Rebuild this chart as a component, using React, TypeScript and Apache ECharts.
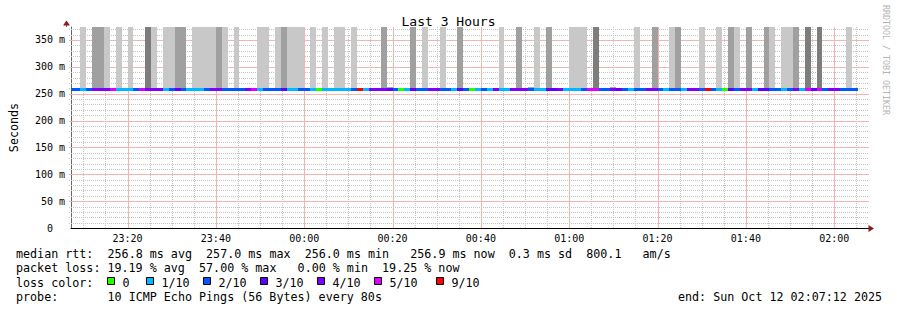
import React, { useEffect, useRef } from 'react';
import * as echarts from 'echarts';

// ---------------- data ----------------
const chartTitle = 'Last 3 Hours';
const yAxisName = 'Seconds';
const watermark = 'RRDTOOL / TOBI OETIKER';

const xStartMin = 7.2; // 23:07:12, minutes after 23:00
const xEndMin = 187.2; // 02:07:12
const firstSlotMin = 6 + 40 / 60; // 23:06:40, first 80 s step
const stepMin = 80 / 60;
const yMax = 374; // ms

const timeTickMinutes = [20, 40, 60, 80, 100, 120, 140, 160, 180];
const timeMinorMinutes = [10, 15, 25, 30, 35, 45, 50, 55, 65, 70, 75, 85, 90, 95, 105, 110, 115, 125, 130, 135, 145, 150, 155, 165, 170, 175, 185];
const rttMajorTicks = [50, 100, 150, 200, 250, 300, 350];
const rttMinorTicks = [10, 20, 30, 40, 60, 70, 80, 90, 110, 120, 130, 140, 160, 170, 180, 190, 210, 220, 230, 240, 260, 270, 280, 290, 310, 320, 330, 340, 360, 370];

// loss per 80 s step (number of lost pings out of 10)
const lossCode = [
  2, 2, 1, 2, 4, 4, 4, 5, 1, 1,
  1, 2, 5, 4, 4, 4, 1, 2, 3, 2,
  1, 1, 1, 2, 4, 4, 2, 2, 2, 2,
  4, 5, 1, 2, 2, 2, 3, 1, 1, 2,
  2, 1, 0, 1, 1, 1, 1, 1, 2, 9,
  1, 4, 4, 4, 3, 2, 0, 1, 3, 2,
  2, 4, 4, 2, 2, 1, 3, 2, 0, 1,
  2, 1, 4, 1, 1, 4, 4, 4, 2, 1,
  1, 3, 3, 4, 1, 1, 1, 2, 5, 5,
  2, 2, 4, 3, 2, 1, 2, 2, 4, 4,
  2, 1, 2, 2, 1, 4, 4, 2, 9, 2,
  1, 0, 3, 2, 4, 4, 1, 3, 3, 2,
  2, 1, 2, 4, 1, 5, 3, 5, 2, 4,
  4, 2, 2, 2,
];

// median rtt per step, ms
const medianRtt = [
  256.9, 257.0, 256.8, 256.9, 257.1, 257.0, 256.8, 256.9, 257.0, 256.9,
  256.8, 257.0, 256.9, 257.1, 256.9, 256.8, 257.0, 256.9, 256.8, 257.0,
  256.9, 256.9, 257.0, 256.8, 256.9, 257.0, 256.9, 256.8, 256.9, 257.0,
  256.8, 256.9, 257.0, 256.9, 256.8, 256.9, 257.0, 256.9, 256.8, 256.9,
  257.0, 256.9, 256.8, 256.9, 257.0, 256.8, 256.9, 257.0, 256.9, 256.8,
  256.9, 257.0, 256.8, 256.9, 257.0, 256.9, 256.8, 256.9, 257.0, 256.9,
  256.8, 257.0, 256.9, 256.8, 256.9, 257.0, 256.9, 256.8, 256.9, 257.0,
  256.9, 256.8, 257.0, 256.9, 256.8, 256.9, 257.0, 256.9, 256.8, 256.9,
  257.0, 256.9, 256.8, 256.9, 257.0, 256.9, 256.8, 256.9, 257.0, 256.9,
  256.8, 256.9, 257.0, 256.9, 256.8, 256.9, 257.0, 256.9, 256.8, 256.9,
  257.0, 256.9, 256.8, 256.9, 257.0, 256.9, 256.8, 256.9, 257.0, 256.9,
  256.8, 256.9, 257.0, 256.9, 256.8, 256.9, 257.0, 256.9, 256.8, 256.9,
  257.0, 256.9, 256.8, 256.9, 257.0, 256.9, 256.8, 256.9, 257.0, 256.9,
  256.9, 256.8, 256.9, 256.9,
];

// smoke reaching above the graph: step indices by shade
const smokeLightSteps = [2, 6, 8, 10, 14, 16, 17, 21, 22, 23, 24, 26, 28, 32, 33, 35, 37, 38, 39, 41, 43, 45, 46, 48, 60, 63, 73, 79, 85, 86, 87, 96, 102, 107, 110, 113, 119, 121, 122, 132];
const smokeMediumSteps = [4, 5, 18, 19, 25, 36, 53, 58, 66, 76, 81, 99, 103, 112, 115, 118, 123];
const smokeDarkSteps = [13, 89, 125, 127];

// small smoke just above the median
const smokeBumpSteps = [27, 30, 42, 52, 54, 68, 69, 71, 78, 92, 93, 101, 117, 126];
const smokeBumpTop = [260, 260, 260.5, 260, 262, 260.5, 260.5, 260, 261.5, 261.5, 260.5, 260.5, 261, 260];

const lossColors: Record<number, string> = {
  0: '#26ff00', 1: '#00b8ff', 2: '#0059ff', 3: '#5e00ff', 4: '#7e00ff', 5: '#dd00ff', 9: '#ff0000',
};
const lossLegendCodes = [0, 1, 2, 3, 4, 5, 9];
const lossLegendLabels = ['0', '1/10', '2/10', '3/10', '4/10', '5/10', '9/10'];

const statsLine = 'median rtt:  256.8 ms avg  257.0 ms max  256.0 ms min   256.9 ms now  0.3 ms sd  800.1   am/s';
const lossLine = 'packet loss: 19.19 % avg  57.00 % max   0.00 % min  19.25 % now';
const lossColorLabel = 'loss color:';
const probeLine = 'probe:       10 ICMP Echo Pings (56 Bytes) every 80s';
const endLine = 'end: Sun Oct 12 02:07:12 2025';

// ---------------- styling ----------------
const MONO = '"DejaVu Sans Mono", monospace';
const LEG_FONT = `11.7px ${MONO}`;
const CW = 7.04;
const shadeColors = ['#c8c8c8', '#a0a0a0', '#7d7d7d'];
const MINOR_GRID = '#c4c4c4';
const MAJOR_GRID = '#f5b4b4';

function fmtTime(m: number) {
  const total = Math.round(23 * 60 + m) % 1440;
  const h = Math.floor(total / 60);
  const mm = total % 60;
  return `${String(h).padStart(2, '0')}:${String(mm).padStart(2, '0')}`;
}

function segments(line: string) {
  const out: { text: string; col: number }[] = [];
  const re = /\S+(?: \S+)*/g;
  let m: RegExpExecArray | null;
  while ((m = re.exec(line))) out.push({ text: m[0], col: m.index });
  return out;
}

function clipRect(params: any, r: any) {
  return echarts.graphic.clipRectByRect(r, {
    x: params.coordSys.x,
    y: params.coordSys.y,
    width: params.coordSys.width,
    height: params.coordSys.height,
  });
}

function gridLineRenderer(color: string, dash: number[] | null) {
  return (params: any, api: any) => {
    const vertical = api.value(0) === 0;
    const v = api.value(1);
    let shape: any;
    if (vertical) {
      const a = api.coord([v, 0]);
      const b = api.coord([v, yMax]);
      const x = Math.round(a[0]) + 0.5;
      shape = { x1: x, y1: Math.round(a[1]), x2: x, y2: Math.round(b[1]) };
    } else {
      const a = api.coord([xStartMin, v]);
      const b = api.coord([xEndMin, v]);
      const y = Math.round(a[1]) + 0.5;
      shape = { x1: Math.round(a[0]) - 2, y1: y, x2: Math.round(b[0]) + 3, y2: y };
    }
    const style: any = { stroke: color, lineWidth: 1, fill: null };
    if (dash) style.lineDash = dash;
    return { type: 'line', shape, style };
  };
}

export default function App() {
  const ref = useRef<HTMLDivElement>(null);

  useEffect(() => {
    if (!ref.current) return;
    const chart = echarts.init(ref.current, undefined, { renderer: 'svg' });

    const slotStart = (j: number) => firstSlotMin + j * stepMin;

    const barData: number[][] = [];
    [smokeLightSteps, smokeMediumSteps, smokeDarkSteps].forEach((list, shade) => {
      list.forEach((j) => barData.push([slotStart(j), slotStart(j + 1), medianRtt[j], yMax, shade]));
    });
    const bumpData = smokeBumpSteps.map((j, i) => [slotStart(j), slotStart(j + 1), medianRtt[j], smokeBumpTop[i]]);
    const medianData = medianRtt.map((v, j) => [slotStart(j), slotStart(j + 1), v, lossCode[j]]);

    const minorGrid: number[][] = [];
    timeMinorMinutes.forEach((m) => minorGrid.push([0, m]));
    rttMinorTicks.forEach((v) => minorGrid.push([1, v]));
    const majorGrid: number[][] = [];
    timeTickMinutes.forEach((m) => majorGrid.push([0, m]));
    rttMajorTicks.forEach((v) => majorGrid.push([1, v]));

    const rectItem = (params: any, api: any, lo: number, hi: number, fill: string) => {
      const s = api.value(0);
      const e = api.value(1);
      const p0 = api.coord([s, hi]);
      const p1 = api.coord([e, lo]);
      const x0 = Math.round(p0[0]);
      const x1 = Math.round(p1[0]);
      const y0 = Math.round(p0[1]);
      const y1 = Math.round(p1[1]);
      const r = clipRect(params, { x: x0, y: y0, width: x1 - x0, height: y1 - y0 });
      if (!r) return null;
      return { type: 'rect', shape: r, style: { fill } };
    };

    const graphics: any[] = [];
    // axis extensions + arrows
    graphics.push({ type: 'line', shape: { x1: 866, y1: 228.5, x2: 870, y2: 228.5 }, style: { stroke: '#000', lineWidth: 1 } });
    graphics.push({ type: 'polygon', shape: { points: [[868.5, 225], [874, 228.5], [868.5, 232]] }, style: { fill: '#8b1c1c' } });
    graphics.push({ type: 'line', shape: { x1: 66.5, y1: 27, x2: 66.5, y2: 24 }, style: { stroke: '#666', lineWidth: 1 } });
    graphics.push({ type: 'polygon', shape: { points: [[63, 25.5], [66.5, 20.5], [70, 25.5]] }, style: { fill: '#8b1c1c' } });

    // watermark
    graphics.push({
      type: 'text', x: 886, y: 60, rotation: -Math.PI / 2,
      style: { text: watermark, font: `8.3px ${MONO}`, fill: '#b4b4b4', align: 'center', verticalAlign: 'middle' },
    });

    const rows = [253.5, 268, 282.5, 297];
    const addLine = (line: string, x0: number, y: number) => {
      segments(line).forEach((s) => {
        graphics.push({
          type: 'text', x: x0 + s.col * CW, y,
          style: { text: s.text, font: LEG_FONT, fill: '#000', verticalAlign: 'middle' },
        });
      });
    };
    addLine(statsLine, 16, rows[0]);
    addLine(lossLine, 16, rows[1]);
    addLine(lossColorLabel, 16, rows[2]);
    addLine(probeLine, 16, rows[3]);
    addLine(endLine, 678, rows[3]);

    const squareX = [107.5, 146.5, 203.5, 260.5, 317.5, 374.5, 436.5];
    lossLegendCodes.forEach((c, i) => {
      graphics.push({
        type: 'rect', shape: { x: squareX[i], y: 277.5, width: 7, height: 7 },
        style: { fill: lossColors[c], stroke: '#000', lineWidth: 1 },
      });
      graphics.push({
        type: 'text', x: squareX[i] + 15, y: rows[2],
        style: { text: lossLegendLabels[i], font: LEG_FONT, fill: '#000', verticalAlign: 'middle' },
      });
    });

    const option: any = {
      animation: false,
      backgroundColor: '#ffffff',
      title: {
        text: chartTitle, left: 'center', top: 10,
        textStyle: { fontFamily: MONO, fontSize: 13, fontWeight: 'normal', color: '#000' },
      },
      grid: { left: 66, top: 27, width: 800, height: 201, containLabel: false },
      xAxis: {
        type: 'value', min: xStartMin, max: xEndMin,
        axisLine: { show: true, onZero: false, lineStyle: { color: '#000', width: 1 } },
        axisTick: { show: false },
        splitLine: { show: false },
        axisLabel: {
          customValues: timeTickMinutes,
          formatter: (v: number) => fmtTime(v),
          fontFamily: MONO, fontSize: 10, color: '#000', margin: 5,
        },
      },
      yAxis: {
        type: 'value', min: 0, max: yMax, interval: 50,
        name: yAxisName, nameLocation: 'middle', nameGap: 51, nameRotate: 90,
        nameTextStyle: { fontFamily: MONO, fontSize: 11.7, color: '#000' },
        axisLine: { show: true, lineStyle: { color: '#666', width: 1 } },
        axisTick: { show: false },
        splitLine: { show: false },
        axisLabel: {
          showMaxLabel: false,
          formatter: (v: number) => (v === 0 ? '{z|0}' : `${v} m`),
          rich: { z: { padding: [0, 12, 0, 0], fontFamily: MONO, fontSize: 10, color: '#000' } },
          fontFamily: MONO, fontSize: 10, color: '#000', margin: 6,
        },
      },
      series: [
        {
          type: 'custom', name: 'minor grid', z: 1, silent: true,
          data: minorGrid,
          renderItem: gridLineRenderer(MINOR_GRID, [1, 1]),
        },
        {
          type: 'custom', name: 'major grid', z: 1, silent: true,
          data: majorGrid,
          renderItem: gridLineRenderer(MAJOR_GRID, null),
        },
        {
          type: 'custom', name: 'smoke', z: 2, silent: true,
          data: barData,
          renderItem: (params: any, api: any) =>
            rectItem(params, api, api.value(2), api.value(3), shadeColors[api.value(4)]),
        },
        {
          type: 'custom', name: 'smoke-low', z: 2, silent: true,
          data: bumpData,
          renderItem: (params: any, api: any) => rectItem(params, api, api.value(2), api.value(3), '#a8a8a8'),
        },
        {
          type: 'custom', name: 'median', z: 4, silent: true,
          data: medianData,
          renderItem: (params: any, api: any) => {
            const s = api.value(0);
            const e = api.value(1);
            const v = api.value(2);
            const p0 = api.coord([s, v]);
            const p1 = api.coord([e, v]);
            const x0 = Math.round(p0[0]);
            const x1 = Math.round(p1[0]);
            const y0 = Math.round(p0[1] - 1.5);
            const r = clipRect(params, { x: x0, y: y0, width: x1 - x0, height: 3 });
            if (!r) return null;
            return { type: 'rect', shape: r, style: { fill: lossColors[api.value(3)] } };
          },
        },
      ],
      graphic: graphics.map((g) => ({ ...g, silent: true, z: 10 })),
    };

    chart.setOption(option);
    return () => chart.dispose();
  }, []);

  return (
    <div
      ref={ref}
      style={{ position: 'absolute', left: 0, top: 0, width: 897, height: 310, background: '#fff' }}
    />
  );
}
